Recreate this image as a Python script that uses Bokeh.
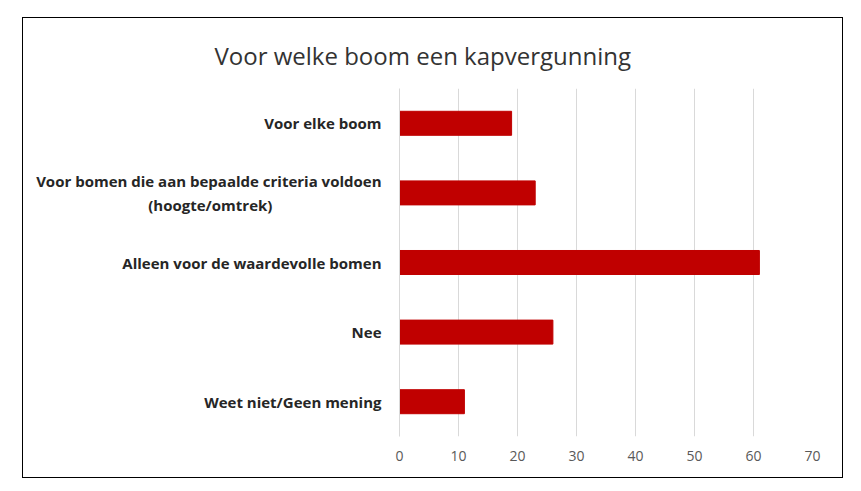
from bokeh.plotting import figure
from bokeh.models import FixedTicker, Title
from bokeh.embed import file_html
from bokeh.resources import INLINE

NBSP = "\u00a0"
categories = [
    "Voor elke boom",
    "Voor bomen die aan bepaalde criteria voldoen\n(hoogte/omtrek)" + NBSP * 28,
    "Alleen voor de waardevolle bomen",
    "Nee",
    "Weet niet/Geen mening",
]
values = [19, 23, 61, 26, 11]
x_ticks = [0, 10, 20, 30, 40, 50, 60, 70]
title_text = "Voor welke boom een kapvergunning"

p = figure(
    width=821, height=461,
    y_range=list(reversed(categories)),
    x_range=(0, 70),
    output_backend="svg", toolbar_location=None,
    min_border_left=376, min_border_right=32,
    min_border_top=70, min_border_bottom=43,
)
p.margin = (17, 0, 0, 22)
p.styles = {"border": "1px solid #000000"}
p.outline_line_color = None
p.background_fill_color = "white"
p.border_fill_color = "white"

t = Title(text=title_text, align="left", offset=-185,
          text_font="Open Sans", text_font_size="24px",
          text_font_style="normal", text_color="#333333", standoff=34)
p.add_layout(t, "above")

p.hbar(y=categories, right=values, left=0, height=0.345, color="#C00000")

p.xaxis.ticker = FixedTicker(ticks=x_ticks)
p.xaxis.axis_line_color = None
p.xaxis.major_tick_line_color = None
p.xaxis.minor_tick_line_color = None
p.xaxis.major_label_text_font = "Open Sans"
p.xaxis.major_label_text_font_size = "14px"
p.xaxis.major_label_text_color = "#595959"
p.xaxis.major_label_standoff = 8

p.yaxis.axis_line_color = "#d9d9d9"
p.yaxis.major_tick_line_color = None
p.yaxis.minor_tick_line_color = None
p.yaxis.major_label_text_font = "Open Sans"
p.yaxis.major_label_text_font_style = "bold"
p.yaxis.major_label_text_font_size = "15px"
p.yaxis.major_label_text_color = "#262626"
p.yaxis.major_label_standoff = 12

p.ygrid.grid_line_color = None
p.xgrid.grid_line_color = "#d9d9d9"
p.xgrid.grid_line_width = 1

open("out.html", "w").write(file_html(p, INLINE))
